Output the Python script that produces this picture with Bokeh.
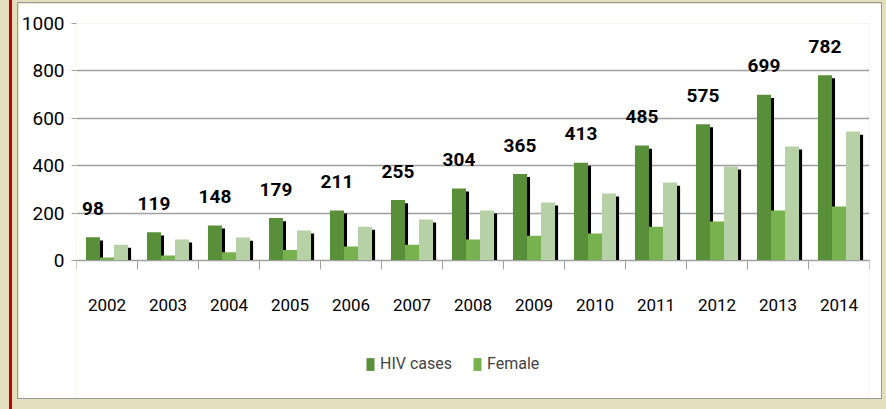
from bokeh.plotting import figure
from bokeh.models import (Range1d, FixedTicker, Legend, LegendItem, ColumnDataSource)
from bokeh.layouts import column
from bokeh.transform import dodge
from bokeh.core.properties import value
from bokeh.embed import file_html
from bokeh.resources import INLINE

years = ["2002", "2003", "2004", "2005", "2006", "2007", "2008",
         "2009", "2010", "2011", "2012", "2013", "2014"]
hiv_cases = [98, 119, 148, 179, 211, 255, 304, 365, 413, 485, 575, 699, 782]
female = [13, 21, 35, 44, 59, 67, 89, 105, 114, 143, 165, 211, 228]
male = [67, 89, 97, 127, 143, 173, 211, 245, 283, 329, 397, 481, 544]
y_ticks = [0, 200, 400, 600, 800, 1000]

FONT = "Roboto"
BEIGE = "#e3dfbc"
C_HIV = "#5a8f3a"
C_FEM = "#77b24e"
C_MALE = "#b6d1a6"
GRID = "#a0a0a0"

centers = [i + 0.5 for i in range(len(years))]
boundaries = list(range(len(years) + 1))
shadow_drop = 13

src = ColumnDataSource(dict(
    x=centers,
    hiv=hiv_cases,
    female=female,
    male=male,
    hiv_sh=[v - shadow_drop for v in hiv_cases],
    male_sh=[v - shadow_drop for v in male],
    lbl=[str(v) for v in hiv_cases],
))

W, H = 863, 395
# the frame reaches the bottom of the panel so the legend can sit below the axis
p = figure(width=W, height=H, output_backend="svg", toolbar_location=None,
           x_range=Range1d(0, len(years)), y_range=Range1d(-582, 1000),
           min_border_left=57, min_border_right=12, min_border_top=20,
           min_border_bottom=0)
p.border_fill_color = "white"
p.background_fill_color = "white"
p.outline_line_color = None

bw = 0.23
sh_dx = 0.05

p.vbar(x=dodge("x", -bw + sh_dx, range=p.x_range), top="hiv_sh", bottom=0, width=bw,
       source=src, fill_color="black", line_color=None)
r_hiv = p.vbar(x=dodge("x", -bw, range=p.x_range), top="hiv", bottom=0, width=bw,
               source=src, fill_color=C_HIV, line_color=None)
r_fem = p.vbar(x=dodge("x", 0, range=p.x_range), top="female", bottom=0, width=bw,
               source=src, fill_color=C_FEM, line_color=None)
p.vbar(x=dodge("x", bw + sh_dx, range=p.x_range), top="male_sh", bottom=0, width=bw,
       source=src, fill_color="black", line_color=None)
p.vbar(x=dodge("x", bw, range=p.x_range), top="male", bottom=0, width=bw,
       source=src, fill_color=C_MALE, line_color=None)

p.text(x=dodge("x", -bw, range=p.x_range), y="hiv", text="lbl", source=src,
       text_font=value(FONT), text_font_style="bold", text_font_size="19px",
       text_align="center", text_baseline="middle", y_offset=-29,
       text_color="black")

# grids: horizontal value lines, and a vertical line standing in for the y axis
p.ygrid.ticker = FixedTicker(ticks=y_ticks)
p.ygrid.grid_line_color = GRID
p.ygrid.grid_line_width = 1.3
p.xgrid.ticker = FixedTicker(ticks=[0])
p.xgrid.bounds = (0, 1000)
p.xgrid.grid_line_color = GRID
p.xgrid.grid_line_width = 1.3

p.yaxis.ticker = FixedTicker(ticks=y_ticks)
p.yaxis.bounds = (0, 1000)
p.yaxis.axis_line_color = None
p.yaxis.major_tick_line_color = GRID
p.yaxis.major_tick_out = 5
p.yaxis.major_tick_in = 0
p.yaxis.minor_tick_line_color = None
p.yaxis.major_label_standoff = 7
p.yaxis.major_label_text_font = FONT
p.yaxis.major_label_text_font_size = "19px"
p.yaxis.major_label_text_color = "black"

p.xaxis.fixed_location = 0
p.xaxis.ticker = FixedTicker(ticks=centers, minor_ticks=boundaries)
p.xaxis.major_label_overrides = {c: y for c, y in zip(centers, years)}
p.xaxis.axis_line_color = GRID
p.xaxis.major_tick_line_color = None
p.xaxis.major_tick_out = 0
p.xaxis.major_tick_in = 0
p.xaxis.minor_tick_line_color = GRID
p.xaxis.minor_tick_out = 9
p.xaxis.minor_tick_in = 0
p.xaxis.major_label_standoff = 29
p.xaxis.major_label_text_font = FONT
p.xaxis.major_label_text_font_size = "17px"
p.xaxis.major_label_text_color = "black"

legend = Legend(items=[LegendItem(label="HIV cases", renderers=[r_hiv]),
                       LegendItem(label="Female", renderers=[r_fem])],
                orientation="horizontal", location=(289, 25),
                padding=0, margin=0, spacing=20, glyph_width=10, glyph_height=16,
                label_standoff=5, background_fill_alpha=0, border_line_color=None,
                label_text_font=FONT, label_text_font_size="16px")
p.add_layout(legend)

page = column(p, width=886, height=409, styles={
    "position": "absolute", "left": "0px", "top": "0px",
    "box-sizing": "border-box",
    "padding": "3px 5px 11px 18px",
    "background-color": BEIGE,
    "background-image": "linear-gradient(to right, transparent 9px, #c00000 9px, "
                        "#c00000 12px, transparent 12px)",
})
p.styles = {"outline": "1px solid #9a9a9a"}

open("out.html", "w").write(file_html(page, INLINE))
